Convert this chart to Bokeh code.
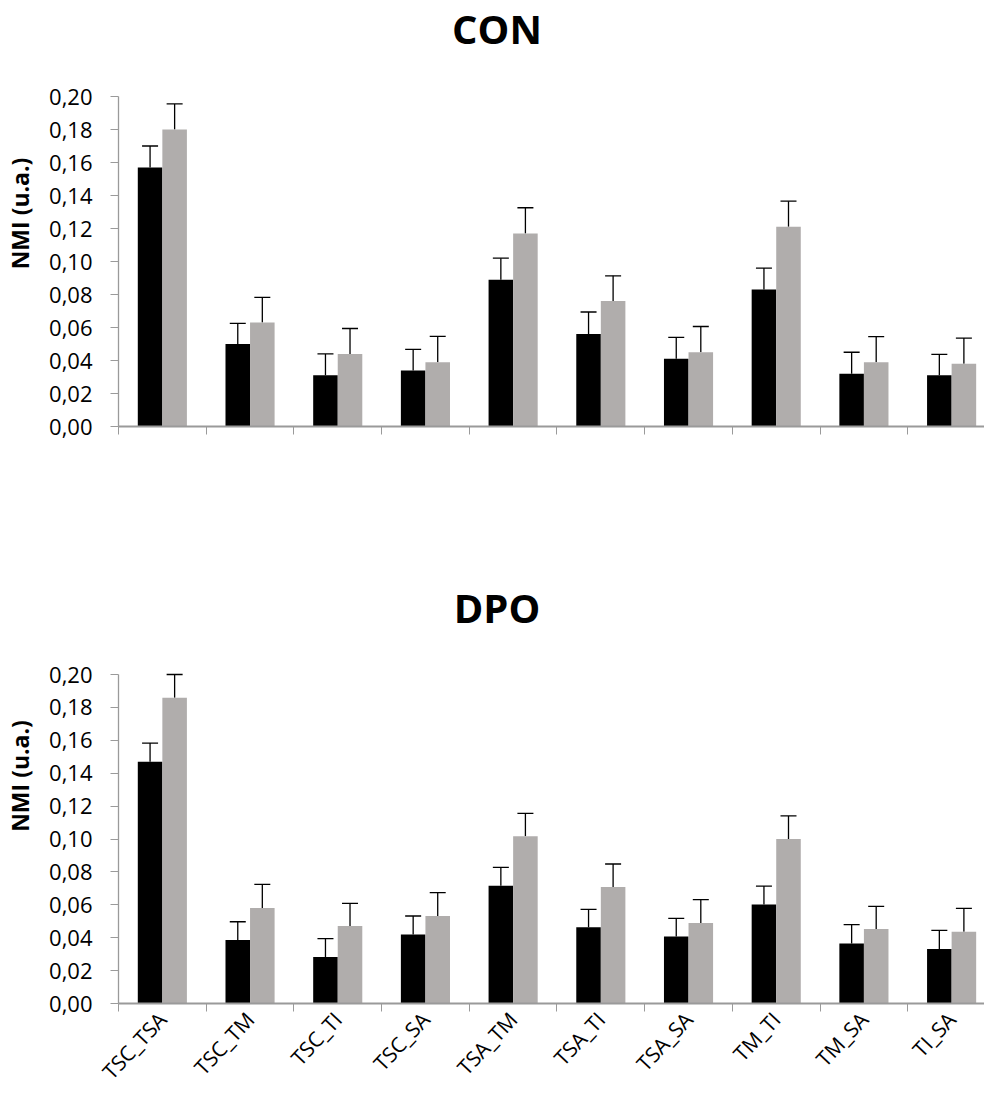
import math
from bokeh.plotting import figure
from bokeh.layouts import column
from bokeh.models import Range1d, FixedTicker, Whisker, TeeHead, ColumnDataSource, Label
from bokeh.embed import file_html
from bokeh.resources import INLINE

# ---------------- data ----------------
categories = ["TSC_TSA", "TSC_TM", "TSC_TI", "TSC_SA", "TSA_TM",
              "TSA_TI", "TSA_SA", "TM_TI", "TM_SA", "TI_SA"]

con_black = [0.157, 0.050, 0.031, 0.034, 0.089, 0.056, 0.041, 0.083, 0.032, 0.031]
con_black_sd = [0.013, 0.0125, 0.013, 0.0128, 0.013, 0.0134, 0.013, 0.013, 0.013, 0.0127]
con_gray = [0.180, 0.063, 0.044, 0.039, 0.117, 0.076, 0.045, 0.121, 0.039, 0.038]
con_gray_sd = [0.0155, 0.0153, 0.0154, 0.0156, 0.0156, 0.0153, 0.0156, 0.0156, 0.0155, 0.0156]

dpo_black = [0.147, 0.0386, 0.0282, 0.042, 0.0716, 0.0463, 0.0408, 0.0602, 0.0365, 0.0331]
dpo_black_sd = [0.0113, 0.0111, 0.0112, 0.0112, 0.0112, 0.0109, 0.0109, 0.0112, 0.0114, 0.0113]
dpo_gray = [0.1858, 0.058, 0.0471, 0.0532, 0.1016, 0.0708, 0.0489, 0.100, 0.0453, 0.0436]
dpo_gray_sd = [0.0142, 0.0144, 0.0138, 0.0142, 0.014, 0.014, 0.0142, 0.014, 0.0137, 0.0142]

y_ticks = [0.00, 0.02, 0.04, 0.06, 0.08, 0.10, 0.12, 0.14, 0.16, 0.18, 0.20]
y_tick_labels = ["0,00", "0,02", "0,04", "0,06", "0,08", "0,10",
                 "0,12", "0,14", "0,16", "0,18", "0,20"]

titles = ["CON", "DPO"]
y_label = "NMI (u.a.)"

FONT = "Open Sans"
BLACK = "#000000"
GRAY = "#B0ADAC"
AXIS = "#9a9a9a"


def make_panel(title, title_y, y_end, black, black_sd, gray, gray_sd, show_labels,
               height, border_bottom):
    n = len(categories)
    centers = [i + 0.5 for i in range(n)]
    bounds = [float(i) for i in range(n + 1)]
    xb = [c - 0.14 for c in centers]
    xg = [c + 0.14 for c in centers]

    p = figure(width=984, height=height, output_backend="svg", toolbar_location=None,
               x_range=Range1d(0, 9.875), y_range=Range1d(0, y_end),
               min_border_left=118, min_border_right=0,
               min_border_top=0, min_border_bottom=border_bottom)
    p.outline_line_color = None
    p.xgrid.grid_line_color = None
    p.ygrid.grid_line_color = None
    p.background_fill_color = "white"
    p.border_fill_color = "white"

    # chart title, centred over the chart
    p.add_layout(Label(x=4.316, y=title_y, text=title, text_font=FONT,
                       text_font_size="40px", text_font_style="bold",
                       text_color="black", text_align="center",
                       text_baseline="alphabetic"))

    src_b = ColumnDataSource(dict(x=xb, top=black,
                                  upper=[v + s for v, s in zip(black, black_sd)]))
    src_g = ColumnDataSource(dict(x=xg, top=gray,
                                  upper=[v + s for v, s in zip(gray, gray_sd)]))

    p.vbar(x="x", top="top", bottom=0, width=0.28, source=src_b,
           fill_color=BLACK, line_color=None)
    p.vbar(x="x", top="top", bottom=0, width=0.28, source=src_g,
           fill_color=GRAY, line_color=None)

    for src in (src_b, src_g):
        w = Whisker(base="x", lower="top", upper="upper", source=src,
                    dimension="height", line_color="black", line_width=1.3,
                    lower_head=None,
                    upper_head=TeeHead(size=16, line_color="black", line_width=1.3))
        p.add_layout(w)

    # y axis (drawn only from 0 to 0.20)
    yax = p.yaxis[0]
    yax.bounds = (y_ticks[0], y_ticks[-1])
    yax.ticker = FixedTicker(ticks=y_ticks, minor_ticks=[])
    yax.major_label_overrides = dict(zip(y_ticks, y_tick_labels))
    yax.major_label_text_font = FONT
    yax.major_label_text_font_size = "22px"
    yax.major_label_text_color = "black"
    yax.major_label_standoff = 18
    yax.major_tick_out = 8
    yax.major_tick_in = 0
    yax.major_tick_line_color = AXIS
    yax.axis_line_color = AXIS
    yax.axis_line_width = 1.3
    yax.axis_label = y_label
    yax.axis_label_text_font = FONT
    yax.axis_label_text_font_size = "23px"
    yax.axis_label_text_font_style = "bold"
    yax.axis_label_text_color = "black"
    yax.axis_label_standoff = 10

    # x axis
    xax = p.xaxis[0]
    xax.ticker = FixedTicker(ticks=centers if show_labels else [], minor_ticks=bounds)
    xax.major_label_overrides = dict(zip(centers, categories))
    xax.major_label_text_font = FONT
    xax.major_label_text_font_size = "21px"
    xax.major_label_text_color = "black"
    xax.major_label_orientation = 0.82
    xax.major_label_standoff = 4
    xax.major_tick_line_color = None
    xax.major_tick_out = 0
    xax.major_tick_in = 0
    xax.minor_tick_out = 8
    xax.minor_tick_in = 0
    xax.minor_tick_line_color = AXIS
    xax.axis_line_color = AXIS
    xax.axis_line_width = 2
    return p


p1 = make_panel(titles[0], 0.2412, 0.2582, con_black, con_black_sd, con_gray, con_gray_sd,
                False, 548, 122)
p2 = make_panel(titles[1], 0.2410, 0.2766, dpo_black, dpo_black_sd, dpo_gray, dpo_gray_sd,
                True, 549, 94)

layout = column(p1, p2, spacing=0)
open("out.html", "w").write(file_html(layout, INLINE))
